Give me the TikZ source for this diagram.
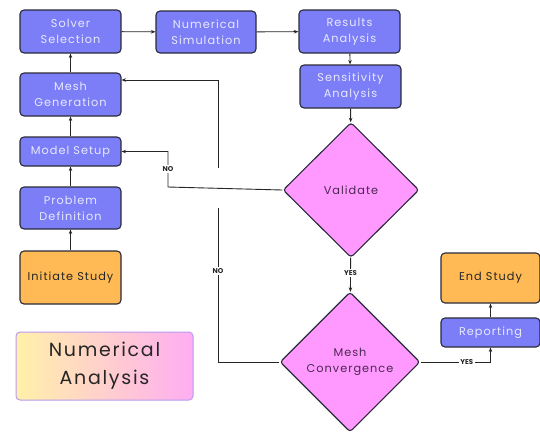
\documentclass[tikz,border=0pt]{standalone}
\usepackage{fontspec}
\setmainfont{Poppins}
\newfontfamily\boxfont[LetterSpace=9]{Poppins}
\newfontfamily\titlefont[LetterSpace=9]{Poppins}
\usetikzlibrary{shapes.geometric,arrows.meta}
\definecolor{bluefill}{HTML}{7B7EF6}
\definecolor{bluetext}{HTML}{E8E8FF}
\definecolor{edge}{HTML}{2A2A3A}
\definecolor{orangefill}{HTML}{FFBA55}
\definecolor{pinkfill}{HTML}{FF99FF}
\definecolor{pinktext}{HTML}{4A2850}
\definecolor{titleL}{HTML}{FFF1A8}
\definecolor{titleR}{HTML}{FFADF2}
\definecolor{titleB}{HTML}{B89AF0}
\tikzset{
  x=1pt,y=-1pt,
  base/.style={draw=edge,line width=1.1pt,rounded corners=4pt,align=center,inner sep=0pt,font=\boxfont\fontsize{11.3}{16}\selectfont},
  bluebox/.style={base,fill=bluefill,text=bluetext,minimum width=101pt},
  orangebox/.style={base,fill=orangefill,text=black!85,minimum width=101pt},
  decision/.style={diamond,draw=edge,line width=1.1pt,rounded corners=3pt,fill=pinkfill,text=pinktext,align=center,inner sep=0pt,font=\boxfont\fontsize{11.3}{16}\selectfont},
  conn/.style={draw=black!85,line width=0.9pt},
  arr/.style={conn,-{Stealth[length=4.5pt,width=3.5pt]}},
  lbl/.style={fill=white,inner sep=1.5pt,font=\bfseries\fontsize{7}{8}\selectfont,text=black!85},
}
\begin{document}
\begin{tikzpicture}
\useasboundingbox (0,0) rectangle (540,432);
\node[bluebox,minimum height=43pt] (solver) at (70.5,31.5) {Solver\\Selection};
\node[bluebox,minimum width=100pt,minimum height=42pt] (numsim) at (206,32) {Numerical\\Simulation};
\node[bluebox,minimum height=43pt] (results) at (349.5,31.5) {Results\\Analysis};
\node[bluebox,minimum height=43pt] (sens) at (350.5,86.5) {Sensitivity\\Analysis};
\node[bluebox,minimum height=43pt] (meshgen) at (70.5,94.5) {Mesh\\Generation};
\node[bluebox,minimum height=29pt] (model) at (70.5,151.5) {Model Setup};
\node[bluebox,minimum height=42pt] (problem) at (70.5,208) {Problem\\Definition};
\node[orangebox,minimum height=53pt] (initiate) at (70.5,277.5) {Initiate Study};
\node[decision,minimum width=136pt,minimum height=135pt] (validate) at (351,190) {Validate};
\node[decision,minimum width=140pt,minimum height=140pt] (meshconv) at (350,362) {Mesh\\Convergence};
\node[orangebox,minimum width=99pt,minimum height=50pt] (endst) at (490.5,278) {End Study};
\node[bluebox,minimum width=99pt,minimum height=29pt] (report) at (490.5,332.5) {Reporting};
\node[draw=titleB,line width=1pt,rounded corners=4pt,left color=titleL,right color=titleR,
      minimum width=177pt,minimum height=68pt,align=center,inner sep=0pt,
      font=\titlefont\fontsize{19}{28}\selectfont,text=black!85] (title) at (104.5,366) {Numerical\\Analysis};

\draw[arr] (initiate) -- (problem);
\draw[arr] (problem) -- (model);
\draw[arr] (model) -- (meshgen);
\draw[arr] (meshgen) -- (solver);
\draw[arr] (solver) -- (numsim);
\draw[arr] (numsim) -- (results);
\draw[arr] (results) -- (sens);
\draw[arr] (sens) -- (validate);
\draw[arr] (validate) -- node[lbl,pos=0.45]{YES} (meshconv);

\coordinate (v1) at (168,187);
\coordinate (v2) at (168,151.5);
\draw[arr] (validate.west) -- (v1) -- node[lbl]{NO} (v2) -- (model.east);

\coordinate (m1) at (218,362);
\coordinate (g1) at (218,208);
\coordinate (g2) at (218,168);
\coordinate (m2) at (218,80);
\draw[conn] (meshconv.west) -- (m1) -- node[lbl,pos=0.59]{NO} (g1);
\draw[arr] (g2) -- (m2) -- (m2 -| meshgen.east);

\coordinate (r1) at (490.5,362);
\draw[arr] (meshconv.east) -- node[lbl,pos=0.66]{YES} (r1) -- (report.south);
\draw[arr] (report) -- (endst);
\end{tikzpicture}
\end{document}
